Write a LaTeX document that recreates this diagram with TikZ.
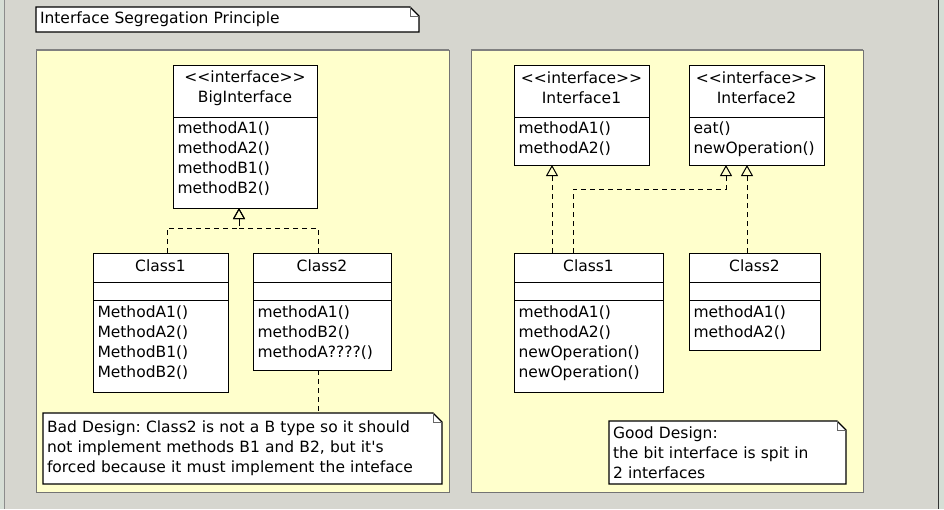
\documentclass[tikz,border=0pt]{standalone}
\usepackage{fontspec}
\usepackage{tikz}
\usetikzlibrary{arrows.meta}
\newfontfamily\umlfont{DejaVu Sans}
\definecolor{screen}{RGB}{214,214,207}
\definecolor{edge}{RGB}{214,222,213}
\definecolor{pkgfill}{RGB}{255,255,204}
\pgfdeclarelayer{bg}
\pgfdeclarelayer{mid}
\pgfsetlayers{bg,mid,main}
\frenchspacing

\tikzset{
        umltext/.style={font=\umlfont\fontsize{15.5}{20}\selectfont, inner sep=0pt},
        classbox/.style={draw=black, fill=white, anchor=north west, inner sep=0pt, outer sep=0pt},
        package/.style={draw=black!55, fill=pkgfill, anchor=north west, inner sep=0pt, outer sep=0pt},
        header/.style={umltext, align=center},
        members/.style={umltext, anchor=north west, align=left},
        note/.style={umltext, anchor=north west, align=left, inner xsep=4pt, outer sep=0pt},
        notepaper/.style={draw=black, fill=white, line width=1.2pt},
        dashline/.style={dash pattern=on 5pt off 4pt},
        realize/.style={dashline, -{Triangle[open, length=11pt, width=12pt]}}
}

\begin{document}
\begin{tikzpicture}[x=1pt, y=-1pt, line width=1pt]
        \useasboundingbox (0,0) rectangle (944,509);

        \node (title) [note, minimum height=25, text width=375] at (36,7) {Interface Segregation Principle};

        \node (big) [classbox, minimum width=144, minimum height=143] at (173,65) {};
        \node (bigname) [header] at (245,88) {<<interface>>\\BigInterface};
        \node (bigops) [members] at (177,121) {methodA1()\\methodA2()\\methodB1()\\methodB2()};

        \node (lc1) [classbox, minimum width=135, minimum height=139] at (93,253) {};
        \node (lc1name) [header] at (160.5,266) {Class1};
        \node (lc1ops) [members] at (97,305) {MethodA1()\\MethodA2()\\MethodB1()\\MethodB2()};

        \node (lc2) [classbox, minimum width=138, minimum height=117] at (253,253) {};
        \node (lc2name) [header] at (322,266) {Class2};
        \node (lc2ops) [members] at (257,305) {methodA1()\\methodB2()\\methodA????()};

        \node (badnote) [note, minimum height=71, text width=391] at (43,413) {Bad Design: Class2 is not a B type so it should\\not implement methods B1 and B2, but it\textquotesingle s\\forced because it must implement the inteface};

        \node (i1) [classbox, minimum width=135, minimum height=100] at (514,65) {};
        \node (i1name) [header] at (581.5,88) {<<interface>>\\Interface1};
        \node (i1ops) [members] at (518,121) {methodA1()\\methodA2()};

        \node (i2) [classbox, minimum width=135, minimum height=100] at (689,65) {};
        \node (i2name) [header] at (756.5,88) {<<interface>>\\Interface2};
        \node (i2ops) [members] at (693,121) {eat()\\newOperation()};

        \node (rc1) [classbox, minimum width=149, minimum height=139] at (514,253) {};
        \node (rc1name) [header] at (588.5,266) {Class1};
        \node (rc1ops) [members] at (518,305) {methodA1()\\methodA2()\\newOperation()\\newOperation()};

        \node (rc2) [classbox, minimum width=131, minimum height=97] at (689,253) {};
        \node (rc2name) [header] at (754.5,266) {Class2};
        \node (rc2ops) [members] at (693,305) {methodA1()\\methodA2()};

        \node (goodnote) [note, minimum height=63, text width=229] at (609,421) {Good Design:\\the bit interface is spit in\\2 interfaces};

        \draw (big.west |- 0,117) -- (big.east |- 0,117);
        \draw (i1.west |- 0,117) -- (i1.east |- 0,117);
        \draw (i2.west |- 0,117) -- (i2.east |- 0,117);
        \foreach \c in {lc1,lc2,rc1,rc2} {
                \draw (\c.west |- 0,282) -- (\c.east |- 0,282);
                \draw (\c.west |- 0,300) -- (\c.east |- 0,300);
        }

        \draw [realize] (lc1.north -| 167,0) |- (239,228) -- (big.south -| 239,0);
        \draw [realize] (lc2.north -| 318,0) |- (239,228) -- (big.south -| 239,0);
        \draw [dashline] (lc2.south -| 318,0) -- (badnote.north -| 318,0);
        \draw [realize] (rc1.north -| 552,0) -- (i1.south -| 552,0);
        \draw [realize] (rc1.north -| 573,0) |- (726,189) -- (i2.south -| 726,0);
        \draw [realize] (rc2.north -| 747,0) -- (i2.south -| 747,0);

        \begin{pgfonlayer}{mid}
                \foreach \n in {title,badnote,goodnote} {
                        \filldraw [notepaper] (\n.north west) -- ([xshift=-9pt]\n.north east)
                                -- ([yshift=-9pt]\n.north east) -- (\n.south east) -- (\n.south west) -- cycle;
                        \draw [black!60, line width=0.8pt] ([xshift=-9pt]\n.north east) |- ([yshift=-9pt]\n.north east);
                }
        \end{pgfonlayer}

        \begin{pgfonlayer}{bg}
                \fill [screen] (0,0) rectangle (944,509);
                \fill [edge] (0,0) rectangle (4,509);
                \fill [edge] (938,0) rectangle (944,509);
                \draw [black!45] (4.5,0) -- (4.5,509);
                \draw [black!80] (938.5,0) -- (938.5,509);
                \node (badpkg) [package, minimum width=413, minimum height=442] at (36,50) {};
                \node (goodpkg) [package, minimum width=392, minimum height=442] at (471,50) {};
                \draw [black!50, line width=2pt] (badpkg.north west) -- (badpkg.north east);
                \draw [black!50, line width=2pt] (goodpkg.north west) -- (goodpkg.north east);
        \end{pgfonlayer}
\end{tikzpicture}
\end{document}
